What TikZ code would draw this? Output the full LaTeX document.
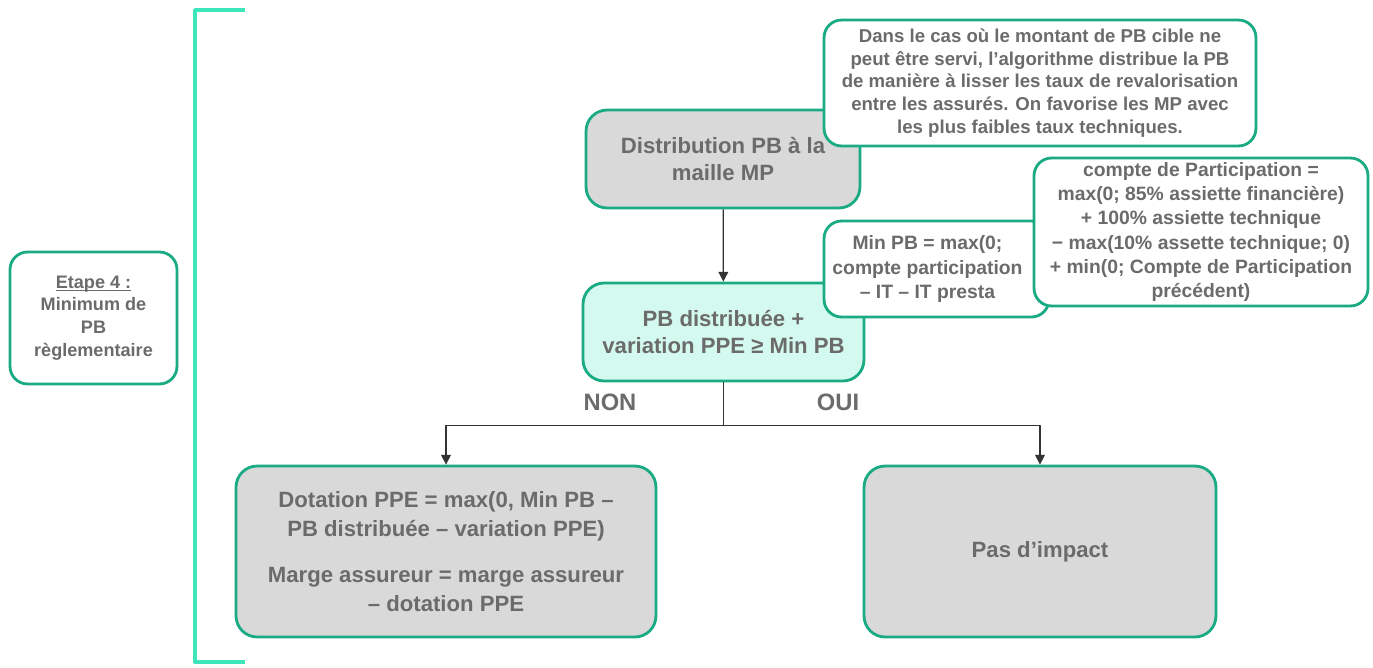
\documentclass[tikz,border=0pt]{standalone}
\usepackage{fontspec}
\setmainfont{Liberation Sans}
\usetikzlibrary{arrows.meta,positioning}
\definecolor{vertbord}{HTML}{1AAB84}
\definecolor{vertvif}{HTML}{3DE6B8}
\definecolor{grisfond}{HTML}{D9D9D9}
\definecolor{mentefond}{HTML}{D4F9EE}
\definecolor{gristexte}{HTML}{6B6B6B}
\newcommand{\souligne}[1]{\setbox0\hbox{#1}\rlap{\copy0}\rule[-1.6pt]{\wd0}{0.6pt}}
\begin{document}
\begin{tikzpicture}[x=0.02cm, y=-0.02cm, >={Triangle[length=5.5pt, width=5.5pt]}, line join=round,
	boite/.style={draw=vertbord, line width=1.6pt, align=center, text=gristexte, inner sep=0pt},
	grosse/.style={boite, rounded corners=12pt, font=\fontsize{12.6}{15.3}\selectfont\bfseries},
	petite/.style={boite, rounded corners=10pt, fill=white, font=\fontsize{11}{13.7}\selectfont\bfseries},
	fleche/.style={->, draw=black!80, line width=0.7pt}]
	\useasboundingbox (0,0) rectangle (1373,667);
	% ==================== ACCOLADE ====================
	\draw[vertvif, line width=2.2pt] (245,10) -- (195,10) -- (195,662) -- (245,662);
	\node[petite, font=\fontsize{10.3}{12.9}\selectfont\bfseries, minimum width=3.34cm, minimum height=2.64cm] (etape) at (93.5,318)
		{\souligne{Etape 4 :}\\Minimum de\\PB\\règlementaire};
	% ==================== DISTRIBUTION ====================
	\node[grosse, fill=grisfond, minimum width=5.48cm, minimum height=1.96cm] (distrib) at (723,159)
		{Distribution PB à la\\maille MP};
	\node[grosse, fill=mentefond, minimum width=5.62cm, minimum height=1.96cm] (pbdist) at (723.5,332)
		{PB distribuée +\\variation PPE ≥ Min PB};
	% ==================== REMARQUES ====================
	\node[petite, font=\fontsize{10.6}{12.9}\selectfont\bfseries, minimum width=8.64cm, minimum height=2.52cm] (remarque) at (1040,83)
		{Dans le cas où le montant de PB cible ne\\peut être servi, l’algorithme distribue la PB\\de manière à lisser les taux de revalorisation\\entre les assurés. On favorise les MP avec\\les plus faibles taux techniques.};
	\node[petite, minimum width=4.5cm, minimum height=1.92cm] (minpb) at (936.5,269) {};
	\node[align=center, text=gristexte, font=\fontsize{11}{13.7}\selectfont\bfseries] (minpbtexte) at (927.5,269)
		{Min PB = max(0;\\compte participation\\– IT – IT presta};
	\node[petite, minimum width=6.68cm, minimum height=2.96cm] (compte) at (1201,232)
		{compte de Participation =\\max(0; 85\% assiette financière)\\+ 100\% assiette technique\\− max(10\% assette technique; 0)\\+ min(0; Compte de Participation\\précédent)};
	% ==================== ISSUES ====================
	\node[grosse, font=\fontsize{12.6}{16.3}\selectfont\bfseries, fill=grisfond, minimum width=8.4cm, minimum height=3.42cm] (dotation) at (446,551.5)
		{Dotation PPE = max(0, Min PB –\\PB distribuée – variation PPE)\\[10pt]Marge assureur = marge assureur\\– dotation PPE};
	\node[grosse, fill=grisfond, minimum width=7.04cm, minimum height=3.42cm] (pasimpact) at (1040,551.5)
		{Pas d’impact};
	\node[text=gristexte, font=\fontsize{13.5}{16}\selectfont\bfseries] (non) at (610,402) {NON};
	\node[text=gristexte, font=\fontsize{13.5}{16}\selectfont\bfseries] (oui) at (838,402) {OUI};
	% ==================== FLECHES ====================
	\draw[fleche] (distrib) -- (pbdist);
	\draw[fleche] (pbdist.south) -- ++(0,43) -| (dotation.north);
	\draw[fleche] (pbdist.south) -- ++(0,43) -| (pasimpact.north);
\end{tikzpicture}
\end{document}
